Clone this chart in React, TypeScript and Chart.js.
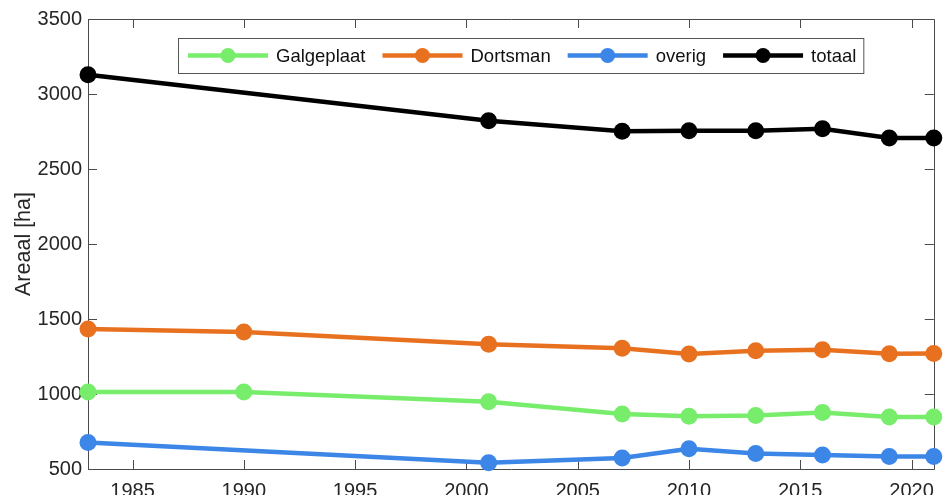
import React, { useEffect, useRef } from "react";
import { Chart, registerables } from "chart.js";

Chart.register(...registerables);

const seriesNames = ["Galgeplaat", "Dortsman", "overig", "totaal"];
const seriesColors = ["#77ED6B", "#E8711F", "#3B86E6", "#000000"];

const yearsFull = [1983, 1990, 2001, 2007, 2010, 2013, 2016, 2019, 2021];
const yearsShort = [1983, 2001, 2007, 2010, 2013, 2016, 2019, 2021];

const galgeplaat = [1013, 1013, 948, 867, 851, 857, 877, 847, 847];
const dortsman = [1433, 1413, 1331, 1305, 1267, 1289, 1295, 1269, 1270];
const overig = [677, 541, 573, 635, 604, 593, 584, 584];
const totaal = [3129, 2822, 2751, 2755, 2755, 2768, 2707, 2707];

const xTicks = [1985, 1990, 1995, 2000, 2005, 2010, 2015, 2020];
const yTicks = [500, 1000, 1500, 2000, 2500, 3000, 3500];
const xMin = 1983;
const xMax = 2021;
const yMin = 500;
const yMax = 3500;
const yTitle = "Areaal [ha]";

const FONT = "'Liberation Sans', Arial, Helvetica, sans-serif";

const pts = (xs: number[], ys: number[]) => xs.map((x, i) => ({ x, y: ys[i] }));

const axesBoxPlugin = {
  id: "axesBox",
  beforeDatasetsDraw(chart: any) {
    const { ctx, chartArea } = chart;
    const { left, right, top, bottom } = chartArea;
    const xs = chart.scales.x;
    const ys = chart.scales.y;
    const tl = 9;
    ctx.save();
    ctx.strokeStyle = "#4a4a4a";
    ctx.lineWidth = 1;
    ctx.beginPath();
    ctx.rect(Math.round(left) + 0.5, Math.round(top) + 0.5, Math.round(right - left), Math.round(bottom - top));
    for (const t of xTicks) {
      const px = Math.round(xs.getPixelForValue(t)) + 0.5;
      ctx.moveTo(px, bottom);
      ctx.lineTo(px, bottom - tl);
      ctx.moveTo(px, top);
      ctx.lineTo(px, top + tl);
    }
    for (const t of yTicks) {
      const py = Math.round(ys.getPixelForValue(t)) + 0.5;
      ctx.moveTo(left, py);
      ctx.lineTo(left + tl, py);
      ctx.moveTo(right, py);
      ctx.lineTo(right - tl, py);
    }
    ctx.stroke();
    ctx.restore();
  },
};

const legendPlugin = {
  id: "customLegend",
  afterDraw(chart: any) {
    const { ctx } = chart;
    const ds = chart.data.datasets;
    const boxLeft = 178;
    const boxTop = 38;
    const boxH = 35;
    const cy = boxTop + boxH / 2;
    const lineLen = 80;
    ctx.save();
    ctx.font = `18.5px ${FONT}`;
    let x = boxLeft + 10;
    const items: any[] = [];
    for (let i = 0; i < ds.length; i++) {
      const w = ctx.measureText(ds[i].label).width;
      items.push({ x, w, color: ds[i].borderColor, label: ds[i].label });
      x += lineLen + 8 + w + 17;
    }
    const boxRight = x - 17 + 7;
    ctx.fillStyle = "#ffffff";
    ctx.fillRect(boxLeft, boxTop, boxRight - boxLeft, boxH);
    ctx.strokeStyle = "#555555";
    ctx.lineWidth = 1;
    ctx.strokeRect(boxLeft + 0.5, boxTop + 0.5, boxRight - boxLeft, boxH);
    for (const it of items) {
      ctx.strokeStyle = it.color;
      ctx.lineWidth = 4.5;
      ctx.beginPath();
      ctx.moveTo(it.x, cy);
      ctx.lineTo(it.x + lineLen, cy);
      ctx.stroke();
      ctx.fillStyle = it.color;
      ctx.beginPath();
      ctx.arc(it.x + lineLen / 2, cy, 7.5, 0, Math.PI * 2);
      ctx.fill();
      ctx.fillStyle = "#111111";
      ctx.textBaseline = "middle";
      ctx.textAlign = "left";
      ctx.fillText(it.label, it.x + lineLen + 8, cy + 1);
    }
    ctx.restore();
  },
};

export default function App() {
  const ref = useRef<HTMLCanvasElement | null>(null);
  useEffect(() => {
    document.body.style.margin = "0";
    const canvas = ref.current;
    if (!canvas) return;
    const mk = (i: number, data: any[]) => ({
      label: seriesNames[i],
      data,
      borderColor: seriesColors[i],
      backgroundColor: seriesColors[i],
      pointBackgroundColor: seriesColors[i],
      pointBorderWidth: 0,
      pointRadius: 8.5,
      borderWidth: 4.5,
      tension: 0,
      clip: false as any,
    });
    const chart = new Chart(canvas, {
      type: "line",
      data: {
        datasets: [
          mk(0, pts(yearsFull, galgeplaat)),
          mk(1, pts(yearsFull, dortsman)),
          mk(2, pts(yearsShort, overig)),
          mk(3, pts(yearsShort, totaal)),
        ],
      },
      options: {
        animation: false,
        responsive: false,
        maintainAspectRatio: false,
        layout: { padding: { top: 19, right: 2, left: 0, bottom: 0 } },
        plugins: { legend: { display: false }, tooltip: { enabled: false } },
        scales: {
          x: {
            type: "linear",
            min: xMin,
            max: xMax,
            grid: { display: false, drawTicks: false },
            border: { display: false },
            afterBuildTicks: (s: any) => {
              s.ticks = xTicks.map((v) => ({ value: v }));
            },
            afterFit: (s: any) => {
              s.height = 26;
            },
            ticks: {
              padding: 10,
              color: "#262626",
              font: { family: FONT, size: 20 },
              maxRotation: 0,
              autoSkip: false,
              callback: (v: any) => String(v),
            },
          },
          y: {
            type: "linear",
            min: yMin,
            max: yMax,
            grid: { display: false, drawTicks: false },
            border: { display: false },
            afterBuildTicks: (s: any) => {
              s.ticks = yTicks.map((v) => ({ value: v }));
            },
            afterFit: (s: any) => {
              s.width = 88;
            },
            title: {
              display: true,
              text: yTitle,
              color: "#262626",
              font: { family: FONT, size: 21.5 },
              padding: { top: 11, bottom: 0 },
            },
            ticks: {
              padding: 6,
              color: "#262626",
              font: { family: FONT, size: 20 },
              autoSkip: false,
              callback: (v: any) => String(v),
            },
          },
        },
      },
      plugins: [axesBoxPlugin, legendPlugin],
    });
    return () => chart.destroy();
  }, []);
  return (
    <div style={{ width: 944, height: 495 }}>
      <canvas ref={ref} width={944} height={495} style={{ display: "block" }} />
    </div>
  );
}
